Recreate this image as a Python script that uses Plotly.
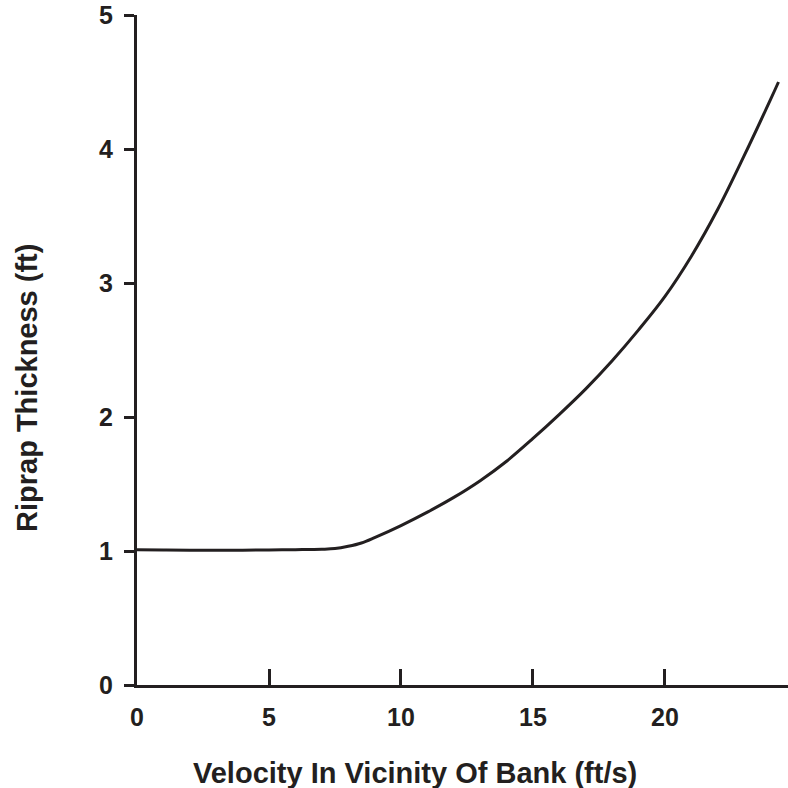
import plotly.graph_objects as go

velocity = [0, 1, 2, 3, 4, 5, 6, 7, 7.5, 8, 8.5, 9, 10, 11, 12, 13, 14, 15, 16, 17, 18, 19, 20, 21, 22, 23, 24, 24.3]
thickness = [1.01, 1.007, 1.005, 1.005, 1.006, 1.008, 1.01, 1.013, 1.018, 1.035, 1.06, 1.1, 1.19, 1.29, 1.40, 1.525, 1.67, 1.84, 2.02, 2.21, 2.42, 2.65, 2.9, 3.2, 3.55, 3.95, 4.37, 4.5]

x_ticks = [0, 5, 10, 15, 20]
y_ticks = [0, 1, 2, 3, 4, 5]
x_title = "Velocity In Vicinity Of Bank (ft/s)"
y_title = "Riprap Thickness (ft)"

ink = "#231f20"
tick_font = dict(family="Liberation Sans, Arial, sans-serif", size=25, color=ink)
title_font = dict(family="Liberation Sans, Arial, sans-serif", size=29, color=ink)

fig = go.Figure()
fig.add_trace(go.Scatter(
    x=velocity, y=thickness, mode="lines",
    line=dict(color=ink, width=3, shape="spline", smoothing=1.0),
    hoverinfo="skip", showlegend=False,
))

fig.update_layout(
    width=788, height=788,
    margin=dict(l=137, r=0, t=15, b=103),
    paper_bgcolor="white", plot_bgcolor="white",
    font=tick_font,
    xaxis=dict(
        range=[0, 24.66], tickvals=x_ticks, ticktext=[f"<b>{v}</b>" for v in x_ticks],
        ticks="inside", ticklen=16, tickwidth=3, tickcolor=ink, tickfont=tick_font,
        showline=True, linewidth=3, linecolor=ink, showgrid=False, zeroline=False,
        ticklabelstandoff=8,
    ),
    yaxis=dict(
        range=[0, 5], tickvals=y_ticks, ticktext=[f"<b>{v}</b>" for v in y_ticks],
        ticks="outside", ticklen=10, tickwidth=3, tickcolor=ink, tickfont=tick_font,
        showline=True, linewidth=3, linecolor=ink, showgrid=False, zeroline=False,
        ticklabelstandoff=6, ticklabeloverflow="allow",
    ),
    annotations=[
        dict(text=f"<b>{x_title}</b>", xref="paper", yref="paper",
             x=(415 - 137) / 651, y=-(773 - 685) / 670, showarrow=False,
             xanchor="center", yanchor="middle", font=title_font),
        dict(text=f"<b>{y_title}</b>", xref="paper", yref="paper",
             x=-(137 - 27) / 651, y=(685 - 388) / 670, showarrow=False,
             xanchor="center", yanchor="middle", textangle=-90, font=title_font),
    ],
)

fig.write_html("out.html", config={"displayModeBar": False},
               post_script="document.body.style.margin='0';")
